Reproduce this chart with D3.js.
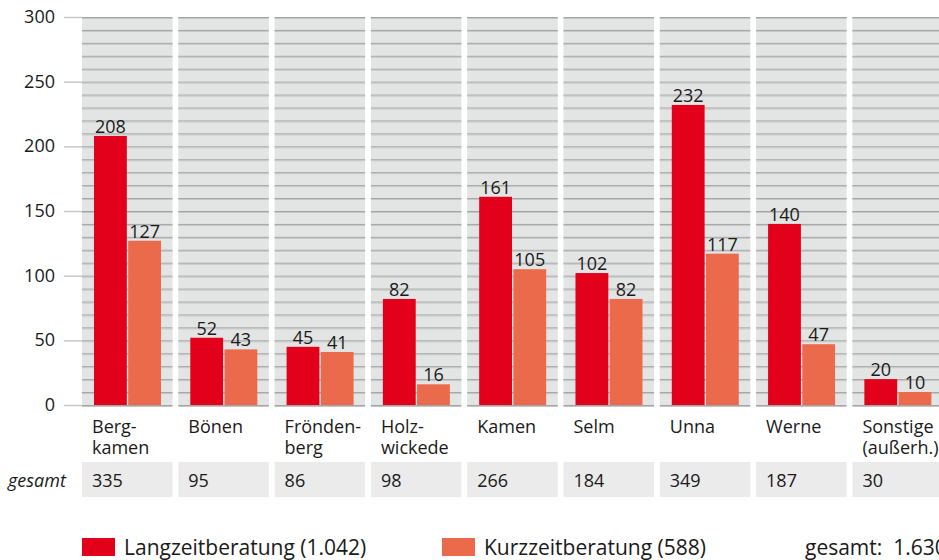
<!DOCTYPE html>
<html>
<head>
<meta charset="utf-8">
<script src="https://cdn.jsdelivr.net/npm/d3@7"></script>
<style>
  body { margin: 0; background: #fff; }
  text { font-family: "Open Sans", sans-serif; fill: #1a1a1a; }
</style>
</head>
<body>
<svg width="939" height="560"></svg>
<script>
// data
const categories = ["Bergkamen", "Bönen", "Fröndenberg", "Holzwickede", "Kamen", "Selm", "Unna", "Werne", "Sonstige"];
const catLabels = [["Berg-", "kamen"], ["Bönen"], ["Frönden-", "berg"], ["Holz-", "wickede"], ["Kamen"], ["Selm"], ["Unna"], ["Werne"], ["Sonstige", "(außerh.)"]];
const langzeit = [208, 52, 45, 82, 161, 102, 232, 140, 20];
const kurzzeit = [127, 43, 41, 16, 105, 82, 117, 47, 10];
const gesamt = [335, 95, 86, 98, 266, 184, 349, 187, 30];
const seriesNames = ["Langzeitberatung (1.042)", "Kurzzeitberatung (588)"];
const colors = ["#e2001a", "#ec6a4c"];
const yTicks = [0, 50, 100, 150, 200, 250, 300];

const svg = d3.select("svg");

// scales
const x = d3.scaleBand()
  .domain(categories)
  .range([82, 82 + 8 * 96.3 + 90.5])
  .paddingInner(0.06)
  .paddingOuter(0);

const x1 = d3.scaleBand()
  .domain([0, 1])
  .range([12, 79])
  .paddingInner(0.04);

const y = d3.scaleLinear()
  .domain([0, 300])
  .range([405, 17]);

// panel backgrounds
svg.append("g").selectAll("rect")
  .data(categories)
  .join("rect")
    .attr("x", d => x(d))
    .attr("y", y(300))
    .attr("width", x.bandwidth())
    .attr("height", y(0) - y(300))
    .attr("fill", "#e3e4e4");

// grid lines every 10 (dark line with a light line under it)
const gridVals = d3.range(0, 301, 10);
const grid = svg.append("g");
categories.forEach(c => {
  grid.selectAll(null)
    .data(gridVals)
    .join("line")
      .attr("x1", x(c))
      .attr("x2", x(c) + x.bandwidth())
      .attr("y1", d => y(d) + 0.5)
      .attr("y2", d => y(d) + 0.5)
      .attr("stroke", "#a3a3a3")
      .attr("stroke-width", 1);
  grid.selectAll(null)
    .data(gridVals)
    .join("line")
      .attr("x1", x(c))
      .attr("x2", x(c) + x.bandwidth())
      .attr("y1", d => y(d) + 1.5)
      .attr("y2", d => y(d) + 1.5)
      .attr("stroke", "#c6c6c6")
      .attr("stroke-width", 1);
});

// y axis ticks + labels
const yAxis = svg.append("g");
yAxis.selectAll("line")
  .data(yTicks)
  .join("line")
    .attr("x1", 64)
    .attr("x2", 82)
    .attr("y1", d => y(d) + 0.5)
    .attr("y2", d => y(d) + 0.5)
    .attr("stroke", "#c8c8c8")
    .attr("stroke-width", 1.5);
yAxis.selectAll("text")
  .data(yTicks)
  .join("text")
    .attr("x", 55)
    .attr("y", d => y(d) + 6)
    .attr("text-anchor", "end")
    .attr("font-size", 18)
    .text(d => d);

// bars
const groups = svg.append("g").selectAll("g")
  .data(categories)
  .join("g")
    .attr("transform", d => "translate(" + x(d) + ",0)");

groups.each(function(c, i) {
  const g = d3.select(this);
  const vals = [langzeit[i], kurzzeit[i]];
  g.selectAll("rect")
    .data(vals)
    .join("rect")
      .attr("x", (d, j) => x1(j))
      .attr("y", d => y(d))
      .attr("width", x1.bandwidth())
      .attr("height", d => y(0) - y(d))
      .attr("fill", (d, j) => colors[j]);
  g.selectAll("text.val")
    .data(vals)
    .join("text")
      .attr("class", "val")
      .attr("x", (d, j) => x1(j) + x1.bandwidth() / 2)
      .attr("y", d => y(d) - 3)
      .attr("text-anchor", "middle")
      .attr("font-size", 18)
      .text(d => d);
});

// category labels
svg.append("g").selectAll("text")
  .data(categories)
  .join("text")
    .attr("x", d => x(d) + 10)
    .attr("y", 433)
    .attr("font-size", 18)
    .each(function(d, i) {
      d3.select(this).selectAll("tspan")
        .data(catLabels[i])
        .join("tspan")
          .attr("x", x(d) + 10)
          .attr("dy", (t, k) => k === 0 ? 0 : 21)
          .text(t => t);
    });

// gesamt row
svg.append("text")
  .attr("x", 8)
  .attr("y", 487)
  .attr("font-size", 18)
  .attr("font-style", "italic")
  .text("gesamt");

svg.append("g").selectAll("rect")
  .data(categories)
  .join("rect")
    .attr("x", d => x(d))
    .attr("y", 462)
    .attr("width", x.bandwidth())
    .attr("height", 35)
    .attr("fill", "#ebebeb");

svg.append("g").selectAll("text")
  .data(categories)
  .join("text")
    .attr("x", d => x(d) + 10)
    .attr("y", 487)
    .attr("font-size", 18)
    .text((d, i) => gesamt[i]);

// legend
const legendX = [82, 442];
const legend = svg.append("g").selectAll("g")
  .data(seriesNames)
  .join("g")
    .attr("transform", (d, i) => "translate(" + legendX[i] + ",538)");
legend.append("rect")
  .attr("width", 33)
  .attr("height", 18)
  .attr("fill", (d, i) => colors[i]);
legend.append("text")
  .attr("x", 42)
  .attr("y", 17)
  .attr("font-size", 21)
  .text(d => d);

svg.append("text")
  .attr("x", 805)
  .attr("y", 555)
  .attr("font-size", 21)
  .attr("xml:space", "preserve")
  .text("gesamt:  1.630");
</script>
</body>
</html>
